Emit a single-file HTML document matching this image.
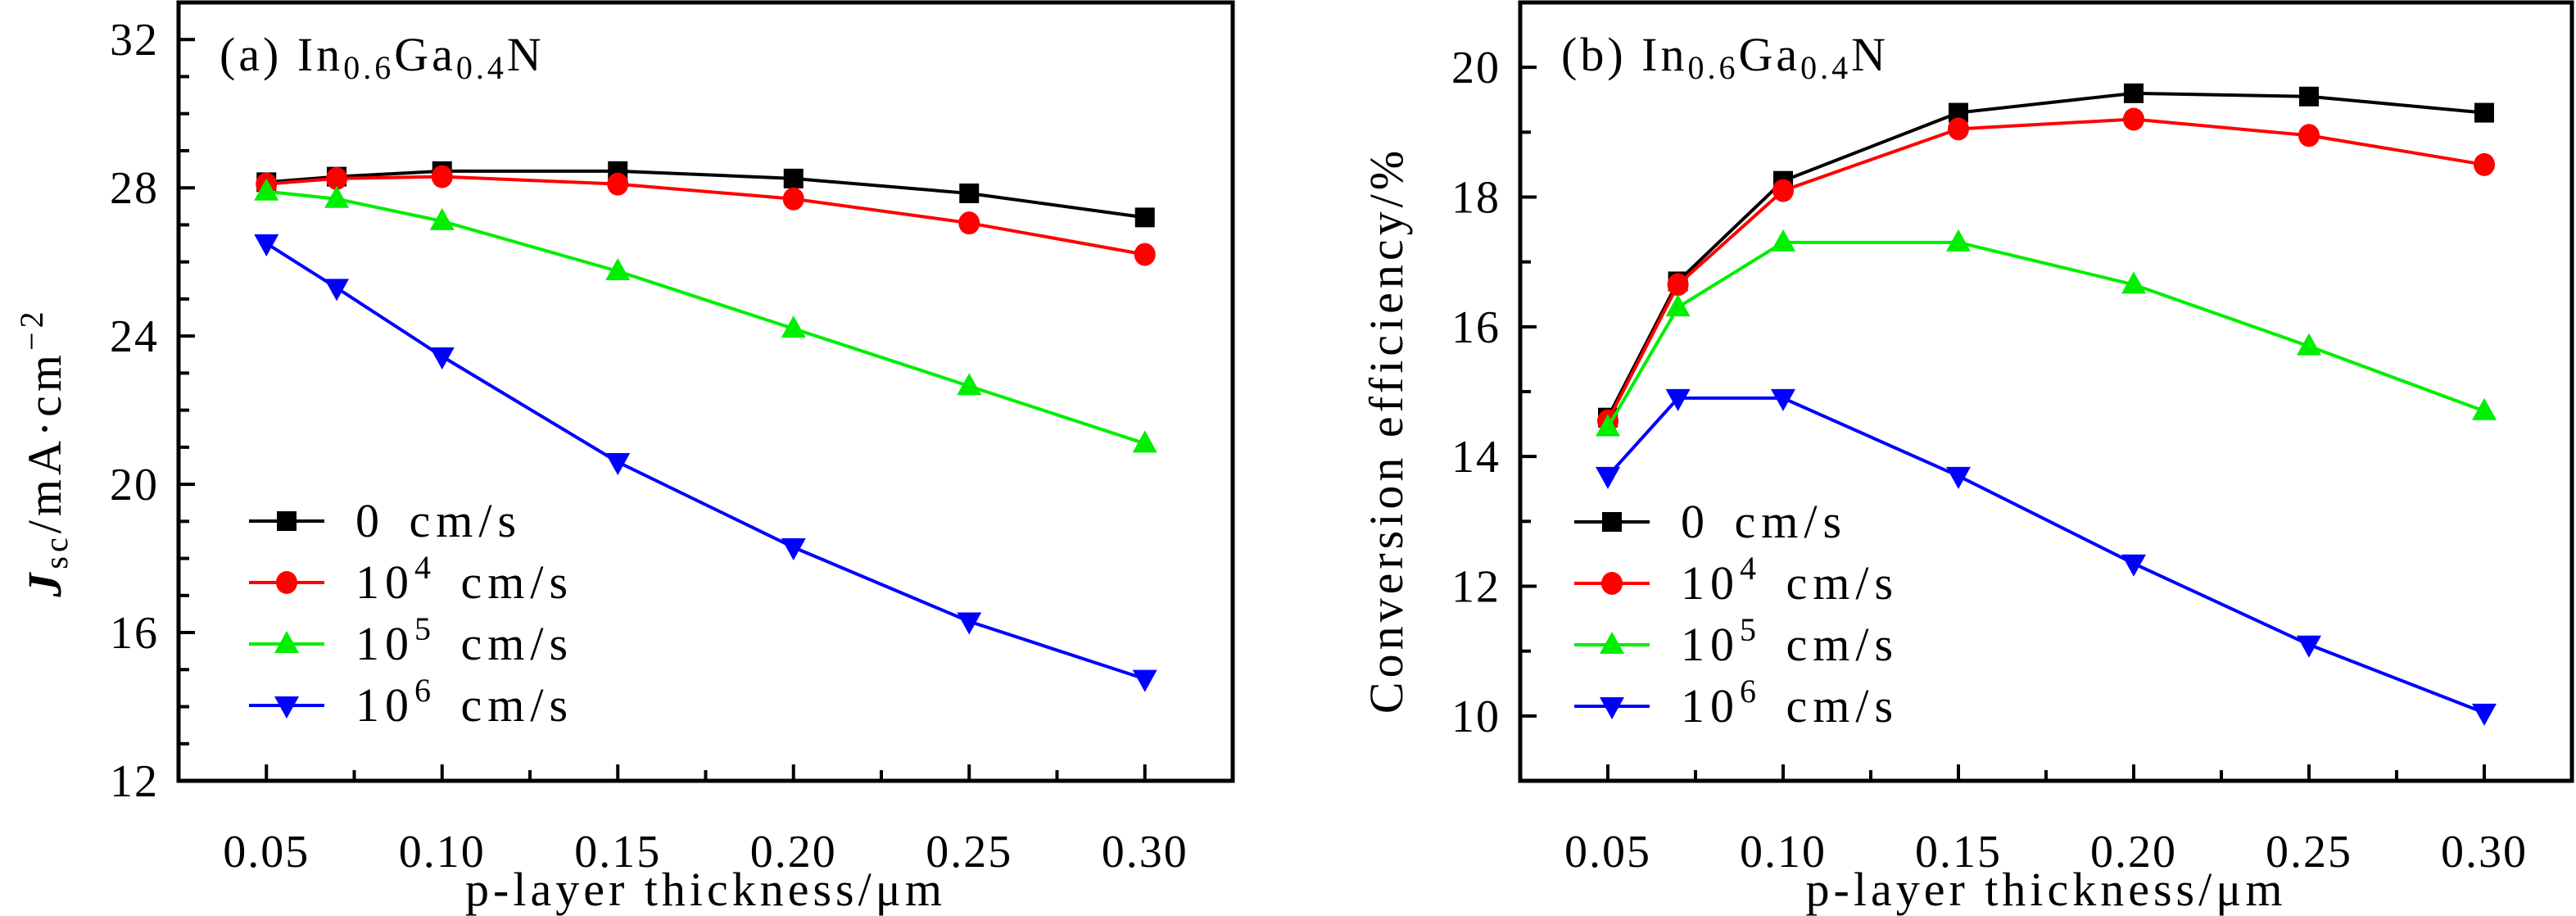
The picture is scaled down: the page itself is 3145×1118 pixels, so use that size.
<!DOCTYPE html>
<html><head><meta charset="utf-8">
<style>
html,body{margin:0;padding:0;background:#fff;}
svg{display:block;font-family:"Liberation Serif",serif;}
</style></head>
<body>
<svg id="fig" width="3145" height="1118" viewBox="0 0 3145 1118" xmlns="http://www.w3.org/2000/svg"></svg>
<script>
const xValues = [0.05, 0.07, 0.10, 0.15, 0.20, 0.25, 0.30];
const seriesLabels = ["0", "4", "5", "6"];
const seriesColors = ["#000000", "#ff0000", "#00ee00", "#0000ff"];
const seriesMarkers = ["square", "circle", "up", "down"];
const jscS0 = [28.15, 28.3, 28.45, 28.45, 28.25, 27.85, 27.2];
const jscS4 = [28.1, 28.25, 28.3, 28.1, 27.7, 27.05, 26.2];
const jscS5 = [27.9, 27.7, 27.1, 25.75, 24.2, 22.65, 21.1];
const jscS6 = [26.5, 25.3, 23.45, 20.6, 18.3, 16.3, 14.75];
const effS0 = [14.6, 16.7, 18.25, 19.3, 19.6, 19.55, 19.3];
const effS4 = [14.55, 16.65, 18.1, 19.05, 19.2, 18.95, 18.5];
const effS5 = [14.45, 16.3, 17.3, 17.3, 16.65, 15.7, 14.7];
const effS6 = [13.7, 14.9, 14.9, 13.7, 12.35, 11.1, 10.05];
const xTicks = [0.05, 0.10, 0.15, 0.20, 0.25, 0.30];
const xTickLabels = ["0.05", "0.10", "0.15", "0.20", "0.25", "0.30"];
const jscTicks = [12, 16, 20, 24, 28, 32];
const effTicks = [10, 12, 14, 16, 18, 20];

const NS = "http://www.w3.org/2000/svg";
const svg = document.getElementById("fig");
function mk(tag, attrs, parent) {
  const e = document.createElementNS(NS, tag);
  for (const k in attrs) e.setAttribute(k, attrs[k]);
  (parent || svg).appendChild(e);
  return e;
}

function marker(g, type, cx, cy, color) {
  let m;
  if (type === "square") m = mk("rect", {x: cx - 12, y: cy - 12, width: 24, height: 24, fill: color}, g);
  else if (type === "circle") m = mk("ellipse", {cx: cx, cy: cy, rx: 13, ry: 14, fill: color}, g);
  else if (type === "up") m = mk("polygon", {points: `${cx},${cy - 16} ${cx - 15},${cy + 11} ${cx + 15},${cy + 11}`, fill: color}, g);
  else m = mk("polygon", {points: `${cx},${cy + 16} ${cx - 15},${cy - 11} ${cx + 15},${cy - 11}`, fill: color}, g);
  return m;
}

function panel(cfg) {
  const g = mk("g", {});
  
  
  const L = cfg.left, R = cfg.right, T = 3, B = 953;
  const xs = v => L + (v - 0.025) / 0.3 * (R - L);
  const ys = v => B - (v - cfg.ymin) / (cfg.ymax - cfg.ymin) * (B - T);
  const tg = mk("g", {}, g);
  
  
  for (let v = cfg.ymin; v <= cfg.ymax + 1e-9; v += cfg.yminor) {
    const major = cfg.yticks.some(t => Math.abs(t - v) < 1e-6);
    mk("line", {x1: L, x2: L + (major ? 20 : 13), y1: ys(v), y2: ys(v), stroke: "#000", "stroke-width": 4}, tg);
  }
  for (let v = 0.05; v <= 0.30001; v += 0.025) {
    const major = xTicks.some(t => Math.abs(t - v) < 1e-6);
    mk("line", {x1: xs(v), x2: xs(v), y1: B, y2: B - (major ? 20 : 13), stroke: "#000", "stroke-width": 4}, tg);
  }
  cfg.yticks.forEach(t => {
    const tx = mk("text", {x: L - 24, y: ys(t) + 19, "text-anchor": "end", "font-size": 56, "letter-spacing": 2}, g);
    tx.textContent = t;
    
    
  });
  xTicks.forEach((t, i) => {
    const tx = mk("text", {x: xs(t), y: 1058, "text-anchor": "middle", "font-size": 56, "letter-spacing": 2}, g);
    tx.textContent = xTickLabels[i];
    
    
  });
  cfg.series.forEach((arr, si) => {
    const sg = mk("g", {}, g);
    
    
    const pts = arr.map((v, i) => xs(xValues[i]) + "," + ys(v)).join(" ");
    mk("polyline", {points: pts, fill: "none", stroke: seriesColors[si], "stroke-width": 4}, sg);
    arr.forEach((v, i) => {
      const m = marker(sg, seriesMarkers[si], xs(xValues[i]), ys(v), seriesColors[si]);
      
      
    });
  });
  const fr = mk("rect", {x: L, y: T, width: R - L, height: B - T, fill: "none", stroke: "#000", "stroke-width": 5}, g);
  
  
  const pt = mk("text", {x: L + 50, y: 86, "font-size": 58, "letter-spacing": 4}, g);
  pt.innerHTML = cfg.tag + ' In<tspan font-size="40" dy="10">0.6</tspan><tspan dy="-10">Ga</tspan><tspan font-size="40" dy="10">0.4</tspan><tspan dy="-10">N</tspan>';
  
  
  const lg = mk("g", {}, g);
  
  
  seriesLabels.forEach((lab, i) => {
    const y = cfg.legY + i * 75;
    const eg = mk("g", {}, lg);
    
    
    mk("line", {x1: cfg.legX - 46, x2: cfg.legX + 46, y1: y, y2: y, stroke: seriesColors[i], "stroke-width": 4}, eg);
    marker(eg, seriesMarkers[i], cfg.legX, y, seriesColors[i]);
    const t = mk("text", {x: cfg.legX + 84, y: y + 19, "font-size": 58, "letter-spacing": 7, "word-spacing": 8}, eg);
    if (lab === "0") t.textContent = "0 cm/s";
    else t.innerHTML = '10<tspan font-size="40" dy="-24">' + lab + '</tspan><tspan dy="24"> cm/s</tspan>';
  });
  const xt = mk("text", {x: (L + R) / 2, y: 1105, "text-anchor": "middle", "font-size": 58, "letter-spacing": 5}, g);
  xt.textContent = "p-layer thickness/μm";
  
  
  const yt = mk("text", {x: 0, y: 0, "text-anchor": "middle", "font-size": 58, "letter-spacing": 5, transform: `translate(${cfg.ytX},${cfg.ytY}) rotate(-90)`}, g);
  yt.innerHTML = cfg.ytitle;
  
  
}

panel({name: "panel-a-jsc", left: 218, right: 1505, ymin: 12, ymax: 33, yminor: 1, yticks: jscTicks,
  series: [jscS0, jscS4, jscS5, jscS6], tag: "(a)", legX: 350, legY: 636, ytX: 74, ytY: 552,
  ytitle: '<tspan font-style="italic" font-weight="bold">J</tspan><tspan font-size="40" dy="8">sc</tspan><tspan dy="-8">/mA·cm</tspan><tspan font-size="40" dy="-22">−2</tspan>'});
panel({name: "panel-b-efficiency", left: 1856, right: 3140, ymin: 9, ymax: 21, yminor: 1, yticks: effTicks,
  series: [effS0, effS4, effS5, effS6], tag: "(b)", legX: 1968, legY: 637, ytX: 1712, ytY: 525,
  ytitle: 'Conversion efficiency/%'});
</script>
</body></html>
